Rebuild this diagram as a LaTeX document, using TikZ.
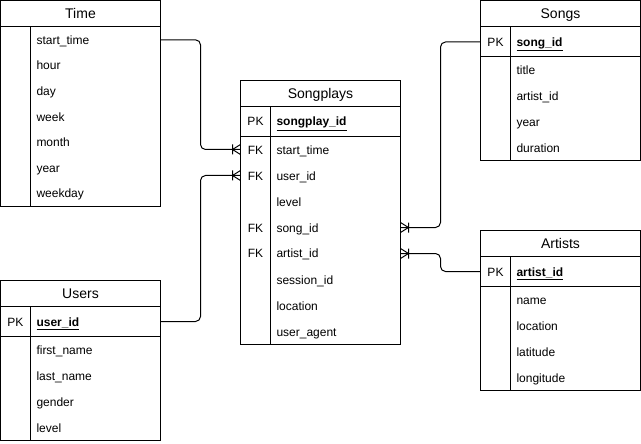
\documentclass[tikz,border=0pt]{standalone}
\usepackage{fontspec}
\setmainfont{Liberation Sans}
\usetikzlibrary{positioning}
\tikzset{
every node/.style={outer sep=0pt, font=\fontsize{12}{14}\selectfont}, % cells meet without gaps
title/.style={draw, minimum width=160pt, minimum height=26pt, text height=12pt, text depth=2pt, font=\fontsize{14}{16}\selectfont}, % the name of a table
attr/.style={minimum width=130pt, minimum height=26pt, text width=118pt, align=left, inner xsep=6pt, text height=10.5pt, text depth=1.5pt}, % a column of a table
pk/.style={attr, minimum height=30pt, font=\fontsize{12}{14}\selectfont\bfseries}, % the primary key row
key/.style={minimum width=30pt, minimum height=26pt, inner sep=0pt, text height=10.5pt, text depth=1.5pt}, % the PK / FK cell
link/.style={rounded corners=5pt}, % the relations between tables
manyone/.pic={\draw (-8,-5) -- (-8,5) (0,5) -- (-8,0) -- (0,-5);}, % crow's foot with a bar
}

\begin{document}
\begin{tikzpicture}[x=1pt, y=1pt, line width=1pt]
    \useasboundingbox (0,0) rectangle (641,-444);
    % Time
    \node[title, anchor=north west] (time) at (0.5,-1) {Time};
    \node[attr, minimum height=25.6pt, below right=0pt and 30pt of time.south west] (t1) {start\_time};
    \node[attr, minimum height=25.6pt, below=0pt of t1] (t2) {hour};
    \node[attr, minimum height=25.6pt, below=0pt of t2] (t3) {day};
    \node[attr, minimum height=25.6pt, below=0pt of t3] (t4) {week};
    \node[attr, minimum height=25.6pt, below=0pt of t4] (t5) {month};
    \node[attr, minimum height=25.6pt, below=0pt of t5] (t6) {year};
    \node[attr, minimum height=25.6pt, below=0pt of t6] (t7) {weekday};
    \draw (time.south west) rectangle (t7.south east);
    \draw (t1.north west) -- (t7.south west);

    % Songplays
    \node[title, anchor=north west] (songplays) at (240.5,-80.5) {Songplays};
    \node[pk, below right=0pt and 30pt of songplays.south west] (sp0) {\underline{songplay\_id}};
    \node[key, minimum height=30pt, left=0pt of sp0] (spk0) {PK};
    \node[attr, below=0pt of sp0] (sp1) {start\_time};
    \node[attr, below=0pt of sp1] (sp2) {user\_id};
    \node[attr, below=0pt of sp2] (sp3) {level};
    \node[attr, below=0pt of sp3] (sp4) {song\_id};
    \node[attr, below=0pt of sp4] (sp5) {artist\_id};
    \node[attr, below=0pt of sp5] (sp6) {session\_id};
    \node[attr, below=0pt of sp6] (sp7) {location};
    \node[attr, below=0pt of sp7] (sp8) {user\_agent};
    \node[key, left=0pt of sp1] (spk1) {FK};
    \node[key, left=0pt of sp2] (spk2) {FK};
    \node[key, left=0pt of sp4] (spk4) {FK};
    \node[key, left=0pt of sp5] (spk5) {FK};
    \draw (songplays.south west) rectangle (sp8.south east);
    \draw (sp0.north west) -- (sp8.south west);
    \draw (spk0.south west) -- (sp0.south east);

    % Users
    \node[title, anchor=north west] (users) at (0.5,-280.5) {Users};
    \node[pk, below right=0pt and 30pt of users.south west] (u0) {\underline{user\_id}};
    \node[key, minimum height=30pt, left=0pt of u0] (uk0) {PK};
    \node[attr, below=0pt of u0] (u1) {first\_name};
    \node[attr, below=0pt of u1] (u2) {last\_name};
    \node[attr, below=0pt of u2] (u3) {gender};
    \node[attr, below=0pt of u3] (u4) {level};
    \draw (users.south west) rectangle (u4.south east);
    \draw (u0.north west) -- (u4.south west);
    \draw (uk0.south west) -- (u0.south east);

    % Songs
    \node[title, anchor=north west] (songs) at (480.5,-1) {Songs};
    \node[pk, below right=0pt and 30pt of songs.south west] (s0) {\underline{song\_id}};
    \node[key, minimum height=30pt, left=0pt of s0] (sk0) {PK};
    \node[attr, below=0pt of s0] (s1) {title};
    \node[attr, below=0pt of s1] (s2) {artist\_id};
    \node[attr, below=0pt of s2] (s3) {year};
    \node[attr, below=0pt of s3] (s4) {duration};
    \draw (songs.south west) rectangle (s4.south east);
    \draw (s0.north west) -- (s4.south west);
    \draw (sk0.south west) -- (s0.south east);

    % Artists
    \node[title, anchor=north west] (artists) at (480.5,-230.5) {Artists};
    \node[pk, below right=0pt and 30pt of artists.south west] (a0) {\underline{artist\_id}};
    \node[key, minimum height=30pt, left=0pt of a0] (ak0) {PK};
    \node[attr, below=0pt of a0] (a1) {name};
    \node[attr, below=0pt of a1] (a2) {location};
    \node[attr, below=0pt of a2] (a3) {latitude};
    \node[attr, below=0pt of a3] (a4) {longitude};
    \draw (artists.south west) rectangle (a4.south east);
    \draw (a0.north west) -- (a4.south west);
    \draw (ak0.south west) -- (a0.south east);

    % relations
    \draw[link] (t1.east) -- ++(40,0) |- (spk1.west);
    \draw[link] (u0.east) -- ++(40,0) |- (spk2.west);
    \draw[link] (sk0.west) -- ++(-40,0) |- (sp4.east);
    \draw[link] (ak0.west) -- ++(-40,0) |- (sp5.east);
    \pic at (spk1.west) {manyone};
    \pic at (spk2.west) {manyone};
    \pic[xscale=-1] at (sp4.east) {manyone};
    \pic[xscale=-1] at (sp5.east) {manyone};
\end{tikzpicture}
\end{document}
